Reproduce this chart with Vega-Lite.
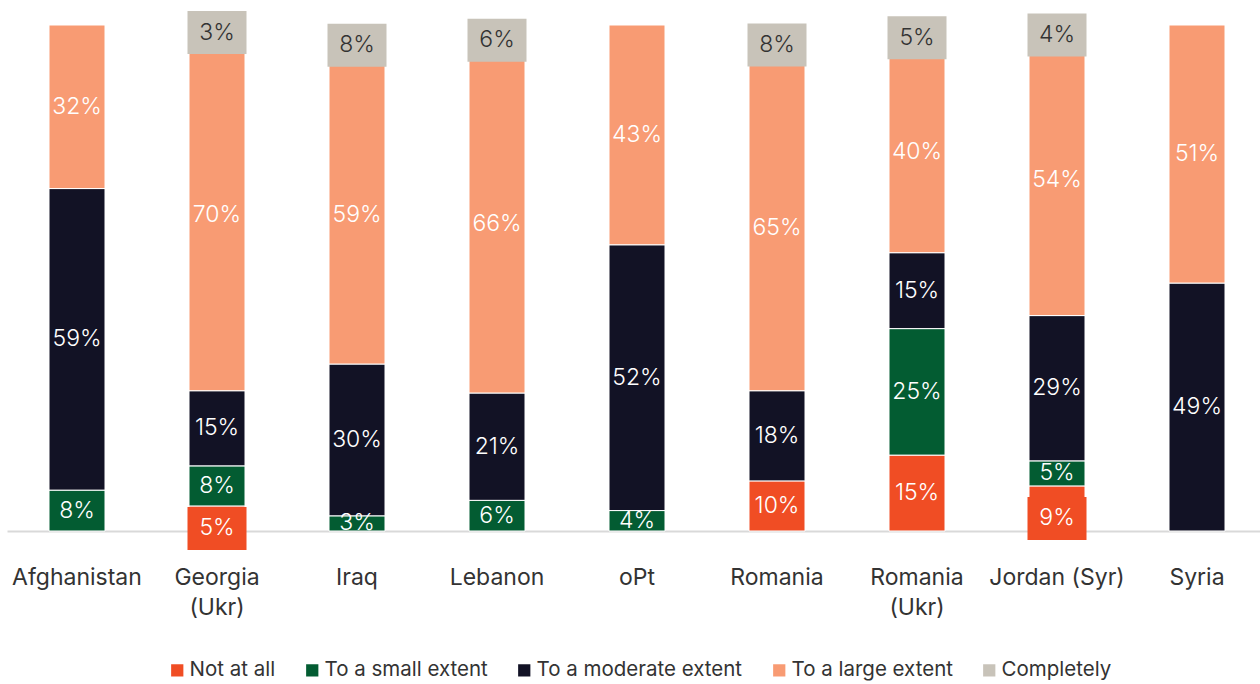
{
  "$schema": "https://vega.github.io/schema/vega-lite/v6.json",
  "width": 1253,
  "height": 506,
  "autosize": {"type": "none"},
  "padding": {"left": 7, "top": 25, "right": 0, "bottom": 153},
  "background": "white",
  "config": {"view": {"stroke": null}, "font": "Inter"},
  "data": {
    "values": [
      {"country": "Afghanistan", "cat": "To a small extent", "k": 2, "share": 0.08},
      {"country": "Afghanistan", "cat": "To a moderate extent", "k": 3, "share": 0.59},
      {"country": "Afghanistan", "cat": "To a large extent", "k": 4, "share": 0.32},
      {"country": "Georgia (Ukr)", "cat": "Not at all", "k": 1, "share": 0.05},
      {"country": "Georgia (Ukr)", "cat": "To a small extent", "k": 2, "share": 0.08},
      {"country": "Georgia (Ukr)", "cat": "To a moderate extent", "k": 3, "share": 0.15},
      {"country": "Georgia (Ukr)", "cat": "To a large extent", "k": 4, "share": 0.70},
      {"country": "Georgia (Ukr)", "cat": "Completely", "k": 5, "share": 0.03},
      {"country": "Iraq", "cat": "To a small extent", "k": 2, "share": 0.03},
      {"country": "Iraq", "cat": "To a moderate extent", "k": 3, "share": 0.30},
      {"country": "Iraq", "cat": "To a large extent", "k": 4, "share": 0.59},
      {"country": "Iraq", "cat": "Completely", "k": 5, "share": 0.08},
      {"country": "Lebanon", "cat": "To a small extent", "k": 2, "share": 0.06},
      {"country": "Lebanon", "cat": "To a moderate extent", "k": 3, "share": 0.21},
      {"country": "Lebanon", "cat": "To a large extent", "k": 4, "share": 0.66},
      {"country": "Lebanon", "cat": "Completely", "k": 5, "share": 0.06},
      {"country": "oPt", "cat": "To a small extent", "k": 2, "share": 0.04},
      {"country": "oPt", "cat": "To a moderate extent", "k": 3, "share": 0.52},
      {"country": "oPt", "cat": "To a large extent", "k": 4, "share": 0.43},
      {"country": "Romania", "cat": "Not at all", "k": 1, "share": 0.10},
      {"country": "Romania", "cat": "To a moderate extent", "k": 3, "share": 0.18},
      {"country": "Romania", "cat": "To a large extent", "k": 4, "share": 0.65},
      {"country": "Romania", "cat": "Completely", "k": 5, "share": 0.08},
      {"country": "Romania (Ukr)", "cat": "Not at all", "k": 1, "share": 0.15},
      {"country": "Romania (Ukr)", "cat": "To a small extent", "k": 2, "share": 0.25},
      {"country": "Romania (Ukr)", "cat": "To a moderate extent", "k": 3, "share": 0.15},
      {"country": "Romania (Ukr)", "cat": "To a large extent", "k": 4, "share": 0.40},
      {"country": "Romania (Ukr)", "cat": "Completely", "k": 5, "share": 0.05},
      {"country": "Jordan (Syr)", "cat": "Not at all", "k": 1, "share": 0.09},
      {"country": "Jordan (Syr)", "cat": "To a small extent", "k": 2, "share": 0.05},
      {"country": "Jordan (Syr)", "cat": "To a moderate extent", "k": 3, "share": 0.29},
      {"country": "Jordan (Syr)", "cat": "To a large extent", "k": 4, "share": 0.54},
      {"country": "Jordan (Syr)", "cat": "Completely", "k": 5, "share": 0.04},
      {"country": "Syria", "cat": "To a moderate extent", "k": 3, "share": 0.49},
      {"country": "Syria", "cat": "To a large extent", "k": 4, "share": 0.51}
    ]
  },
  "encoding": {
    "x": {
      "field": "country",
      "type": "nominal",
      "sort": ["Afghanistan", "Georgia (Ukr)", "Iraq", "Lebanon", "oPt", "Romania", "Romania (Ukr)", "Jordan (Syr)", "Syria"],
      "scale": {"range": [0, 1260], "paddingInner": 0.6, "paddingOuter": 0.3},
      "axis": {
        "title": null,
        "labelAngle": 0,
        "labelFont": "Inter",
        "labelFontSize": 23,
        "labelColor": "#333333",
        "labelPadding": 35,
        "labelLineHeight": 30,
        "labelExpr": "datum.value == 'Georgia (Ukr)' ? ['Georgia', '(Ukr)'] : datum.value == 'Romania (Ukr)' ? ['Romania', '(Ukr)'] : datum.value",
        "ticks": false,
        "domainColor": "#D9D9D9",
        "domainWidth": 2,
        "grid": false
      }
    },
    "order": {"field": "k", "type": "quantitative"}
  },
  "layer": [
    {
      "mark": {"type": "bar", "stroke": "white", "strokeWidth": 1},
      "encoding": {
        "y": {"field": "share", "type": "quantitative", "stack": "normalize", "axis": null, "scale": {"domain": [0, 1]}},
        "color": {
          "field": "cat",
          "type": "nominal",
          "scale": {
            "domain": ["Not at all", "To a small extent", "To a moderate extent", "To a large extent", "Completely"],
            "range": ["#F04D24", "#035C32", "#121225", "#F89B73", "#C8C3B9"]
          },
          "legend": {
            "title": null,
            "orient": "none",
            "legendX": 160,
            "legendY": 635,
            "direction": "horizontal",
            "symbolType": "square",
            "symbolSize": 150,
            "symbolStrokeWidth": 0,
            "labelFont": "Inter",
            "labelFontSize": 20.5,
            "labelColor": "#333333",
            "labelOffset": 2,
            "labelLimit": 400,
            "columnPadding": 26
          }
        }
      }
    },
    {
      "mark": {"type": "tick", "thickness": 43, "size": 59, "cornerRadius": 0, "strokeWidth": 0, "yOffset": {"expr": "datum.cat == 'Not at all' ? 10 : 0"}},
      "encoding": {
        "y": {"field": "share", "type": "quantitative", "stack": "normalize", "bandPosition": 0.5},
        "color": {"field": "cat", "type": "nominal", "legend": null},
        "opacity": {
          "condition": {"test": "(datum.cat == 'Not at all' || datum.cat == 'Completely') && datum.share < 0.095", "value": 1},
          "value": 0
        }
      }
    },
    {
      "mark": {"type": "text", "font": "Inter", "fontSize": 23, "fontWeight": 300, "baseline": "middle", "align": "center", "yOffset": {"expr": "datum.cat == 'Not at all' && datum.share < 0.095 ? 10 : 0"}},
      "encoding": {
        "y": {"field": "share", "type": "quantitative", "stack": "normalize", "bandPosition": 0.5},
        "detail": {"field": "cat", "type": "nominal"},
        "text": {"field": "share", "type": "quantitative", "format": ".0%"},
        "color": {
          "condition": {"test": "datum.cat == 'Completely'", "value": "#333333"},
          "value": "#FFFFFF"
        }
      }
    }
  ]
}
